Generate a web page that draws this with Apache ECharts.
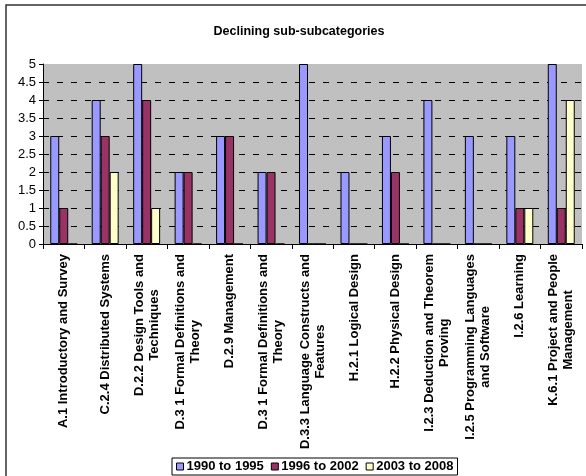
<!DOCTYPE html>
<html>
<head>
<meta charset="utf-8">
<script src="https://cdn.jsdelivr.net/npm/echarts@6/dist/echarts.min.js"></script>
<style>
  html, body { margin: 0; padding: 0; background: #fff; }
  #chart { width: 586px; height: 476px; }
</style>
</head>
<body>
<div id="chart"></div>
<script>
// ACM sub-subcategories and paper counts per period
const categories = [
  'A.1 Introductory and Survey',
  'C.2.4 Distributed Systems',
  'D.2.2 Design Tools and\nTechniques',
  'D.3 1 Formal Definitions and\nTheory',
  'D.2.9 Management',
  'D.3 1 Formal Definitions and\nTheory',
  'D.3.3 Language Constructs and\nFeatures',
  'H.2.1 Logical Design',
  'H.2.2 Physical Design',
  'I.2.3 Deduction and Theorem\nProving',
  'I.2.5 Programming Languages\nand Software',
  'I.2.6 Learning',
  'K.6.1 Project and People\nManagement'
];
const seriesNames = ['1990 to 1995', '1996 to 2002', '2003 to 2008'];
const period1 = [3, 4, 5, 2, 3, 2, 5, 2, 3, 4, 3, 3, 5];
const period2 = [1, 3, 4, 2, 3, 2, 0, 0, 2, 0, 0, 1, 1];
const period3 = [0, 2, 1, 0, 0, 0, 0, 0, 0, 0, 0, 1, 4];
const yTicks = { min: 0, max: 5, step: 0.5 };
const colors = ['#9999FF', '#993366', '#FFFFCC'];

const FONT = '"Liberation Sans", Arial, sans-serif';
const chart = echarts.init(document.getElementById('chart'), null, { renderer: 'canvas' });

const makeSeries = (name, values, color) => ({
  name: name,
  type: 'bar',
  data: values,
  barGap: '0%',
  barCategoryGap: '35%',
  itemStyle: { color: color, borderColor: '#000', borderWidth: 1 }
});

chart.setOption({
  animation: false,
  backgroundColor: '#fff',
  textStyle: { fontFamily: FONT },
  title: {
    text: 'Declining sub-subcategories',
    left: 294,
    top: 20,
    textAlign: 'center',
    textStyle: { fontFamily: FONT, fontSize: 12.5, fontWeight: 'bold', color: '#000' }
  },
  graphic: [{
    type: 'rect',
    shape: { x: 6, y: 5, width: 620, height: 500 },
    style: { fill: 'none', stroke: '#333', lineWidth: 1.5 },
    silent: true,
    z: -1
  }],
  legend: {
    data: seriesNames,
    left: 172,
    top: 458,
    orient: 'horizontal',
    icon: 'rect',
    itemWidth: 7,
    itemHeight: 7,
    itemGap: 7,
    padding: [2, 4, 2, 4],
    borderColor: '#000',
    borderWidth: 1,
    backgroundColor: '#fff',
    itemStyle: { borderColor: '#000', borderWidth: 1 },
    textStyle: { fontFamily: FONT, fontSize: 13, fontWeight: 'bold', color: '#000', padding: [0, 0, 0, -2] }
  },
  grid: {
    left: 43,
    top: 64,
    right: 4,
    bottom: 232,
    show: true,
    backgroundColor: '#C0C0C0',
    borderWidth: 0
  },
  xAxis: {
    type: 'category',
    data: categories,
    axisLine: { lineStyle: { color: '#000', width: 1 } },
    axisTick: { show: true, alignWithLabel: false, interval: 0, length: 5, lineStyle: { color: '#000' } },
    axisLabel: {
      interval: 0,
      rotate: 90,
      margin: 10,
      formatter: function (v) {
        return v.split('\n').map(function (s) { return '{c|' + s + '}'; }).join('\n');
      },
      rich: {
        c: { fontFamily: FONT, fontSize: 13, fontWeight: 'bold', color: '#000', align: 'center', lineHeight: 15 }
      }
    },
    splitLine: { show: false }
  },
  yAxis: {
    type: 'value',
    min: yTicks.min,
    max: yTicks.max,
    interval: yTicks.step,
    axisLine: { show: true, lineStyle: { color: '#000', width: 1 } },
    axisTick: { show: true, length: 4, lineStyle: { color: '#000' } },
    axisLabel: { fontFamily: FONT, fontSize: 13, color: '#000', margin: 7 },
    splitLine: {
      show: true,
      showMinLine: false,
      showMaxLine: false,
      lineStyle: { color: '#000', width: 1, type: [6, 8] }
    }
  },
  series: [
    makeSeries(seriesNames[0], period1, colors[0]),
    makeSeries(seriesNames[1], period2, colors[1]),
    makeSeries(seriesNames[2], period3, colors[2])
  ]
});
</script>
</body>
</html>
